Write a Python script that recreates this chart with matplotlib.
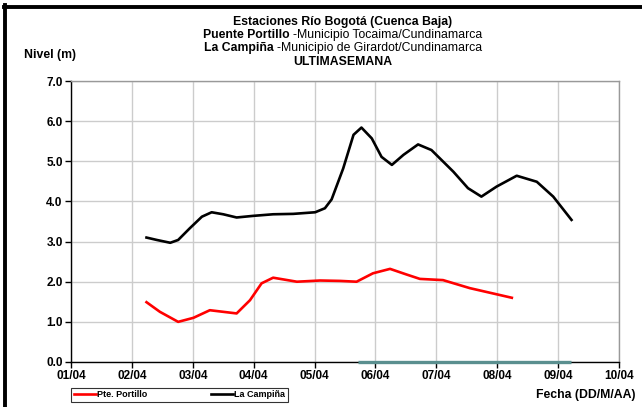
"""Niveles Rio Bogota - ultima semana."""

import matplotlib
matplotlib.use("Agg")
import matplotlib.pyplot as plt

plt.rcParams['font.family'] = ['Liberation Sans', 'DejaVu Sans']

# day of April (fractional) and level in m
campina_dias = [2.24, 2.41, 2.63, 2.76, 2.95, 3.15, 3.31, 3.50, 3.72, 3.99, 4.32,
                4.65, 5.01, 5.17, 5.28, 5.47, 5.64, 5.77, 5.94, 6.10, 6.27,
                6.46, 6.70, 6.92, 7.28, 7.52, 7.74, 7.99, 8.32, 8.65, 8.92, 9.22]
campina_nivel = [3.10, 3.04, 2.97, 3.04, 3.33, 3.62, 3.73, 3.68, 3.60, 3.64, 3.68,
                 3.69, 3.73, 3.83, 4.05, 4.82, 5.66, 5.84, 5.57, 5.11, 4.91,
                 5.16, 5.42, 5.28, 4.74, 4.33, 4.12, 4.37, 4.64, 4.49, 4.12, 3.54]

portillo_dias = [2.24, 2.46, 2.76, 3.01, 3.28, 3.50, 3.72, 3.94, 4.13, 4.32, 4.71,
                 5.09, 5.42, 5.69, 5.96, 6.24, 6.51, 6.73, 7.11, 7.55, 8.24]
portillo_nivel = [1.49, 1.25, 1.00, 1.10, 1.29, 1.25, 1.21, 1.54, 1.96, 2.10, 2.00,
                  2.03, 2.02, 2.00, 2.21, 2.32, 2.18, 2.07, 2.04, 1.84, 1.60]

cero_dias = [5.72, 9.21]
cero_nivel = [0.0, 0.0]

ticks = list(range(1, 11))
tick_labels = ['01/04', '02/04', '03/04', '04/04', '05/04',
               '06/04', '07/04', '08/04', '09/04', '10/04']

fig = plt.figure(figsize=(6.42, 4.07), dpi=100)
W, H = 642, 407
ax = fig.add_axes([71 / W, 1 - 362 / H, (619 - 71) / W, (362 - 81) / H])

ax.plot(cero_dias, cero_nivel, color='#5a8f8f', lw=2.4, zorder=5, clip_on=False,
        solid_capstyle='butt')
ax.plot(portillo_dias, portillo_nivel, color='#ff0000', lw=1.9, zorder=4,
        label='Pte. Portillo', solid_joinstyle='round')
ax.plot(campina_dias, campina_nivel, color='black', lw=1.9, zorder=4,
        label='La Campiña', solid_joinstyle='round')

ax.set_xlim(1, 10)
ax.set_ylim(0, 7)
ax.set_xticks(ticks)
ax.set_xticklabels(tick_labels)
ax.set_yticks(range(8))
ax.set_yticklabels([f'{v:.1f}' for v in range(8)])
ax.grid(True, color='#cccccc', lw=1.0)
ax.set_axisbelow(True)
for s in ['top', 'right']:
    ax.spines[s].set_color('#999999')
    ax.spines[s].set_linewidth(1.0)
for s in ['left', 'bottom']:
    ax.spines[s].set_color('black')
    ax.spines[s].set_linewidth(1.0)
ax.tick_params(axis='both', direction='out', length=4, width=1, labelsize=8.5, pad=2)
for lab in ax.get_xticklabels() + ax.get_yticklabels():
    lab.set_fontweight('bold')

# titles with mixed weight
fs = 8.8
fig.canvas.draw()
renderer = fig.canvas.get_renderer()
cx = 343 / W


def mixed(y, bold, normal):
    t1 = fig.text(0, 1 - y / H, bold, fontsize=fs, fontweight='bold', va='center')
    t2 = fig.text(0, 1 - y / H, normal, fontsize=fs, va='center')
    w1 = t1.get_window_extent(renderer).width / W
    w2 = t2.get_window_extent(renderer).width / W
    x0 = cx - (w1 + w2) / 2
    t1.set_x(x0)
    t2.set_x(x0 + w1)


fig.text(cx, 1 - 22 / H, 'Estaciones Río Bogotá (Cuenca Baja)', fontsize=fs,
         fontweight='bold', ha='center', va='center')
mixed(35, 'Puente Portillo ', '-Municipio Tocaima/Cundinamarca')
mixed(48.5, 'La Campiña ', '-Municipio de Girardot/Cundinamarca')
fig.text(cx, 1 - 62 / H, 'ULTIMASEMANA', fontsize=fs, fontweight='bold',
         ha='center', va='center')

fig.text(24 / W, 1 - 55 / H, 'Nivel (m)', fontsize=8.8, fontweight='bold', va='center')
fig.text(636 / W, 1 - 395 / H, 'Fecha (DD/M/AA)', fontsize=8.8, fontweight='bold',
         ha='right', va='center')

leg = fig.legend(loc='lower left', bbox_to_anchor=(71 / W, 1 - 402 / H), ncol=2,
                 prop={'size': 6.5, 'weight': 'bold'}, frameon=True, fancybox=False,
                 handlelength=2.5, handletextpad=0.1, columnspacing=7,
                 borderpad=0.3, borderaxespad=0)
leg.get_frame().set_edgecolor('black')
leg.get_frame().set_linewidth(0.8)

# black outer border (top and left)
fig.add_artist(plt.Line2D([5.5 / W, 5.5 / W], [0, 1 - 5 / H], color='black', lw=2.8,
                          transform=fig.transFigure))
fig.add_artist(plt.Line2D([4 / W, 1], [1 - 7 / H, 1 - 7 / H], color='black', lw=2.8,
                          transform=fig.transFigure))

fig.savefig('out.png', dpi=100)
